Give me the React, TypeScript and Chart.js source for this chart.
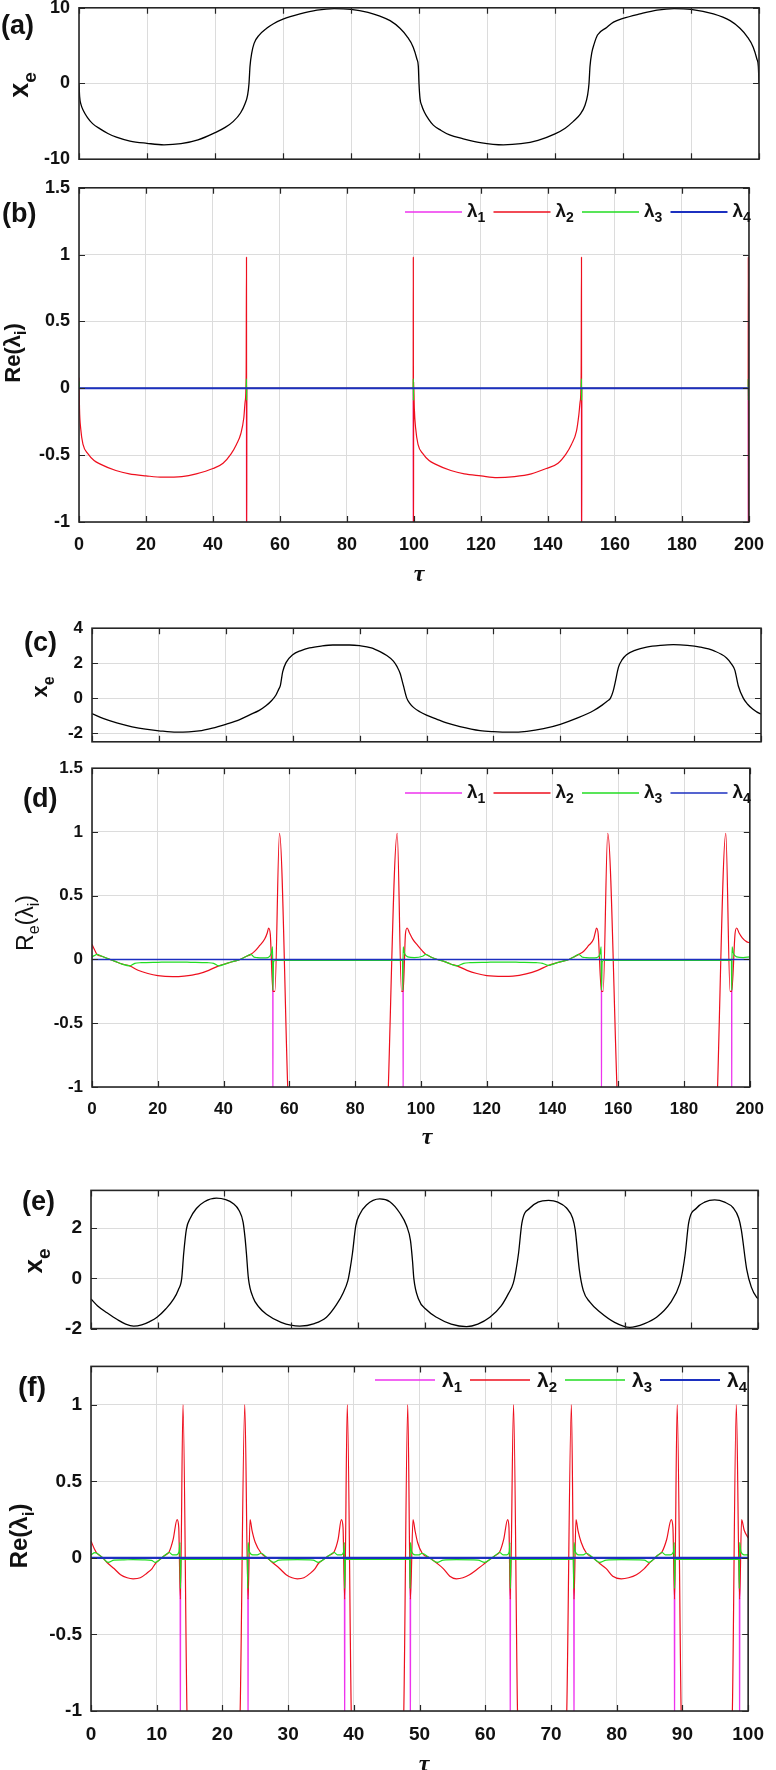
import React, { useEffect, useRef } from "react";
import { Chart, registerables } from "chart.js";

Chart.register(...registerables);

const FONT = "'Liberation Sans', Arial, Helvetica, sans-serif";
const SERIF = "'Liberation Serif', 'Times New Roman', serif";

// ---------------- tick labels ----------------
const tau200Ticks = [0, 20, 40, 60, 80, 100, 120, 140, 160, 180, 200];
const tau100Ticks = [0, 10, 20, 30, 40, 50, 60, 70, 80, 90, 100];
const xeATicks = [-10, 0, 10];
const lamTicks = [-1, -0.5, 0, 0.5, 1, 1.5];
const xeCTicks = [-2, 0, 2, 4];
const xeETicks = [-2, 0, 2];
const lamFTicks = [-1, -0.5, 0, 0.5, 1];

// ---------------- series names ----------------
const lambdaNames = ["λ1", "λ2", "λ3", "λ4"];

// ---------------- panel (a): x_e vs tau ----------------
const aXe: [number, number][] = [
  [0, 0], [0.2, -1.8], [0.6, -2.8], [1.3, -3.6], [2.5, -4.5], [4, -5.3], [6.2, -6.0], [8.5, -6.6],
  [11, -7.08], [15, -7.6], [20, -7.9], [25, -8.1], [30, -7.95], [35, -7.45], [40, -6.5], [43, -5.8],
  [45.4, -5.0], [47.5, -3.9], [48.8, -2.7], [49.6, -1.5], [50, 0], [50.3, 2.3], [50.8, 4.0], [51.5, 5.3],
  [53, 6.4], [55.2, 7.3], [57.2, 7.9], [60, 8.5], [65, 9.2], [70, 9.7], [75, 9.9], [80, 9.8], [85, 9.4],
  [88.5, 8.9], [91.5, 8.3], [94.4, 7.3], [96.5, 6.2], [98.3, 4.8], [99.4, 3.2], [99.8, 2.3], [100, 0],
  [100.3, -2.0], [100.8, -2.9], [101.6, -3.8], [102.8, -4.7], [104.2, -5.5], [106.5, -6.2], [109, -6.8],
  [113, -7.3], [118, -7.8], [124.8, -8.1], [130, -7.95], [135, -7.5], [140, -6.65], [143, -5.9],
  [145.4, -5.0], [147.5, -4.0], [148.8, -2.9], [149.6, -1.5], [150, 0], [150.3, 2.3], [150.8, 4.0],
  [151.5, 5.2], [152.5, 6.4], [155.2, 7.4], [157.2, 8.1], [160, 8.6], [165, 9.2], [170, 9.7], [175, 9.9],
  [180, 9.8], [186.6, 9.2], [191.5, 8.3], [194.4, 7.3], [196.5, 6.2], [198.3, 4.8], [199.4, 3.2],
  [199.8, 2.3], [200, 0],
];

// ---------------- panel (b): Re(lambda) ----------------
const bL1: [number, number][] = [
  [0, 0], [49.98, 0], [50, -1.3], [50.02, 0], [99.78, 0], [99.8, -1.3], [99.82, 0],
  [149.98, 0], [150, -1.3], [150.02, 0], [199.78, 0], [199.8, -1.3], [199.82, 0], [200, 0],
];
const bL2: [number, number][] = [
  [0, 0.08], [0.15, -0.15], [0.5, -0.3], [1.2, -0.42], [2.7, -0.49], [4.5, -0.54], [6.2, -0.565],
  [11, -0.615], [15, -0.64], [20, -0.655], [25, -0.665], [30.7, -0.66], [35, -0.64], [40, -0.6],
  [43, -0.56], [45.4, -0.49], [47, -0.42], [48.3, -0.34], [49.2, -0.22], [49.6, -0.1], [49.9, 0.1],
  [50, 0.98], [50.05, -1.3], [50.1, 0], [99.75, 0], [99.8, 0.98], [99.85, -1.3], [99.9, 0.05],
  [100.1, -0.15], [100.5, -0.3], [101.2, -0.42], [102.7, -0.49], [104.5, -0.54], [106.2, -0.565],
  [111, -0.615], [115, -0.64], [120, -0.655], [124.8, -0.668], [130, -0.66], [135, -0.64],
  [139.5, -0.6], [143, -0.56], [145.4, -0.49], [147, -0.42], [148.5, -0.32], [149.2, -0.2],
  [149.6, -0.1], [149.9, 0.1], [150, 0.98], [150.05, -1.3], [150.1, 0], [199.75, 0], [199.8, 0.98],
  [199.85, -1.3], [199.9, 0], [200, 0],
];
const bL3: [number, number][] = [
  [0, 0], [0.05, 0.05], [0.15, 0], [49.95, 0], [49.98, 0.07], [50.02, -0.09], [50.06, 0],
  [99.76, 0], [99.79, 0.07], [99.83, -0.09], [99.87, 0], [149.95, 0], [149.98, 0.07],
  [150.02, -0.09], [150.06, 0], [199.76, 0], [199.79, 0.07], [199.83, -0.09], [199.87, 0], [200, 0],
];
const bL4: [number, number][] = [[0, 0], [200, 0]];

// ---------------- panel (c): x_e vs tau ----------------
const cXe: [number, number][] = [
  [0, -0.89], [3.5, -1.18], [7.4, -1.42], [12, -1.64], [16, -1.78], [20, -1.87], [25.3, -1.95],
  [32, -1.88], [36, -1.72], [40, -1.5], [44, -1.25], [47, -0.97], [50, -0.7], [52, -0.44],
  [53.8, -0.12], [55, 0.18], [55.8, 0.5], [56.3, 0.71], [57, 1.5], [58, 2.03], [60, 2.48],
  [62.5, 2.72], [65, 2.87], [68.5, 2.98], [72, 3.04], [77, 3.04], [80, 3.0], [83.5, 2.88],
  [86.1, 2.66], [88, 2.45], [90.1, 2.12], [91.2, 1.8], [92.1, 1.42], [93.1, 0.71], [94.1, 0],
  [95, -0.3], [96.1, -0.53], [98, -0.78], [100, -0.97], [103, -1.2], [106, -1.42], [110, -1.63],
  [116, -1.86], [120, -1.92], [125, -1.95], [130, -1.9], [135, -1.75], [140, -1.5], [145, -1.15],
  [150, -0.71], [152.5, -0.4], [154, -0.18], [155, 0], [155.8, 0.4], [156.4, 0.89], [157.4, 1.77],
  [158.5, 2.2], [159.8, 2.48], [162.5, 2.75], [165.8, 2.92], [170, 3.02], [173.8, 3.06], [178, 3.02],
  [181.8, 2.92], [186, 2.7], [189.7, 2.3], [191.2, 1.95], [192.2, 1.59], [193.2, 0.71], [194.7, 0],
  [196, -0.35], [197.5, -0.62], [199.7, -0.89], [200, -0.9],
];

// ---------------- panel (d): Re(lambda) ----------------
const dL1: [number, number][] = [
  [0, 0], [54.95, 0], [55, -1.3], [55.05, 0], [94.55, 0], [94.6, -1.3], [94.65, 0],
  [154.85, 0], [154.9, -1.3], [154.95, 0], [194.45, 0], [194.5, -1.3], [194.55, 0], [200, 0],
];
const dL2: [number, number][] = [
  [0, 0.12], [0.7, 0.08], [1.5, 0.04], [3, 0.025], [5, 0.005], [7, -0.015], [9, -0.035], [11.5, -0.05],
  [14, -0.085], [17, -0.11], [20, -0.126], [24.5, -0.134], [28, -0.13], [32.3, -0.113], [35.5, -0.085],
  [38.5, -0.05], [41, -0.03], [43, -0.015], [45, 0], [47, 0.025], [48.3, 0.04], [49.5, 0.065],
  [51, 0.11], [52.5, 0.16], [53.3, 0.21], [53.7, 0.247], [54.2, 0.2], [55.0, -0.25], [55.6, -0.25],
  [57, 0.99], [59.5, -1.0], [59.9, -1.3], [89.8, -1.3], [90.1, -1.0], [92.8, 0.99], [94.1, -0.25],
  [94.6, -0.25], [95.3, 0.2], [95.8, 0.247], [96.5, 0.21], [97.5, 0.16], [99, 0.11], [100.5, 0.065],
  [101.5, 0.04], [103, 0.02], [105, 0], [107, -0.015], [109, -0.035], [111, -0.05], [114, -0.085],
  [117, -0.11], [120, -0.126], [125, -0.132], [128, -0.13], [132, -0.113], [135.5, -0.085],
  [138.7, -0.047], [141, -0.028], [143, -0.015], [145, 0], [146.5, 0.02], [148, 0.04], [149.5, 0.065],
  [151, 0.11], [152.5, 0.16], [153, 0.21], [153.4, 0.247], [153.9, 0.2], [154.9, -0.25], [155.4, -0.25],
  [156.8, 0.99], [159.6, -1.0], [160, -1.3], [189.9, -1.3], [190.2, -1.0], [192.7, 0.99], [194.0, -0.25],
  [194.5, -0.25], [195.5, 0.2], [196, 0.247], [196.7, 0.21], [197.7, 0.17], [199, 0.14], [200, 0.13],
];
const dL3: [number, number][] = [
  [0, 0.02], [0.7, 0.03], [1.5, 0.04], [3, 0.025], [5, 0.005], [7, -0.015], [9, -0.035], [11.5, -0.05],
  [13, -0.03], [15, -0.025], [20, -0.022], [25, -0.02], [30, -0.022], [35, -0.025], [37, -0.03],
  [38.5, -0.05], [41, -0.03], [43, -0.015], [45, 0], [47, 0.025], [48.3, 0.04], [49.2, 0.02],
  [50.2, 0.015], [52, 0.012], [53.5, 0.015], [54.5, 0.05], [54.9, 0.1], [55.0, -0.24], [55.2, -0.02],
  [55.6, -0.008], [94.4, -0.008], [94.5, -0.24], [94.6, 0.1], [95, 0.05], [96, 0.02], [98, 0.015],
  [100.5, 0.025], [101.5, 0.04], [103, 0.02], [105, 0], [107, -0.015], [109, -0.035], [111, -0.05],
  [113, -0.03], [115, -0.025], [120, -0.022], [125, -0.02], [130, -0.022], [135, -0.025], [137, -0.03],
  [138.7, -0.047], [141, -0.028], [143, -0.015], [145, 0], [146.5, 0.02], [148, 0.04], [149, 0.02],
  [150.2, 0.015], [152, 0.012], [153.5, 0.015], [154.5, 0.05], [154.8, 0.1], [154.9, -0.24],
  [155.1, -0.02], [155.5, -0.008], [194.4, -0.008], [194.5, -0.24], [194.6, 0.1], [195, 0.05],
  [196, 0.02], [198, 0.015], [200, 0.02],
];
const dL4: [number, number][] = [[0, 0], [200, 0]];

// ---------------- panel (e): x_e vs tau ----------------
const eXe: [number, number][] = [
  [0, -0.82], [1, -1.1], [2.4, -1.37], [4, -1.65], [5.2, -1.82], [6.4, -1.9], [7.6, -1.85], [8.8, -1.72],
  [9.9, -1.55], [11.2, -1.22], [12.4, -0.82], [13.1, -0.45], [13.6, 0], [13.9, 1.0], [14.3, 1.95],
  [14.9, 2.4], [15.8, 2.78], [17, 3.05], [18.8, 3.19], [20.2, 3.13], [21.3, 2.98], [22.2, 2.7],
  [22.8, 2.24], [23.1, 1.6], [23.3, 1.0], [23.6, 0], [24.3, -0.76], [25.2, -1.15], [26.3, -1.43],
  [28.5, -1.75], [31.3, -1.9], [33.5, -1.8], [35.3, -1.55], [36.8, -1.05], [37.8, -0.58], [38.5, -0.1],
  [38.8, 0.3], [39.2, 1.0], [39.7, 2.1], [40.3, 2.55], [41.3, 2.92], [43.3, 3.16], [44.8, 3.05],
  [46.3, 2.6], [47.3, 2.1], [47.9, 1.5], [48.2, 0.7], [48.4, 0], [49.1, -0.82], [50.3, -1.25],
  [51.8, -1.55], [54, -1.82], [56.3, -1.92], [58, -1.82], [59.8, -1.55], [61.5, -1.1], [62.6, -0.6],
  [63.3, -0.2], [63.7, 0.3], [64.1, 1.0], [64.6, 2.2], [65.8, 2.8], [67, 3.03], [68.6, 3.1], [70, 3.03],
  [71.3, 2.8], [72.2, 2.4], [72.6, 1.93], [73.2, 0.37], [73.8, -0.48], [74.8, -0.95], [76.3, -1.34],
  [78.5, -1.75], [80.8, -1.95], [83, -1.8], [84.8, -1.55], [86.8, -1.0], [88.3, -0.2], [88.7, 0.3],
  [89.1, 1.0], [89.6, 2.2], [90.8, 2.8], [92, 3.03], [93.5, 3.12], [95, 3.03], [96.3, 2.8],
  [97.1, 2.4], [97.5, 1.93], [98.3, 0.37], [99.0, -0.35], [99.8, -0.76], [100, -0.8],
];

// ---------------- panel (f): Re(lambda) ----------------
const fL1: [number, number][] = [
  [0, 0], [13.55, 0], [13.6, -1.3], [13.65, 0], [23.85, 0], [23.9, -1.3], [23.95, 0],
  [38.55, 0], [38.6, -1.3], [38.65, 0], [48.55, 0], [48.6, -1.3], [48.65, 0],
  [63.75, 0], [63.8, -1.3], [63.85, 0], [73.45, 0], [73.5, -1.3], [73.55, 0],
  [88.75, 0], [88.8, -1.3], [88.85, 0], [98.65, 0], [98.7, -1.3], [98.75, 0], [100, 0],
];
const fL2: [number, number][] = [
  [0, 0.11], [0.5, 0.06], [0.9, 0.03], [1.8, 0.0], [2.6, -0.037], [3.5, -0.07], [4.5, -0.11], [5.5, -0.13],
  [6.4, -0.137], [7.5, -0.13], [8.5, -0.1], [9.3, -0.07], [9.8, -0.037], [10.5, -0.01], [11.2, 0.015],
  [11.9, 0.04], [12.5, 0.12], [13.1, 0.25], [13.35, 0.2], [13.6, -0.27], [14.0, 1.0], [14.6, -1.0],
  [14.8, -1.3], [22.5, -1.3], [22.7, -1.0], [23.4, 1.0], [23.9, -0.27], [24.2, 0.25], [24.5, 0.18],
  [25.0, 0.1], [25.9, 0.03], [26.8, 0.0], [27.8, -0.037], [28.7, -0.07], [29.7, -0.11], [30.6, -0.13],
  [31.4, -0.137], [32.4, -0.13], [33.4, -0.1], [34.1, -0.07], [34.6, -0.037], [35.4, -0.01],
  [36.2, 0.015], [37.0, 0.04], [37.6, 0.12], [38.1, 0.25], [38.35, 0.2], [38.6, -0.27], [39.0, 1.0],
  [39.6, -1.0], [39.8, -1.3], [47.4, -1.3], [47.6, -1.0], [48.2, 1.0], [48.6, -0.27], [49.0, 0.25],
  [49.3, 0.18], [49.7, 0.1], [50.4, 0.03], [51.5, 0.0], [52.7, -0.037], [53.6, -0.07], [54.6, -0.12],
  [55.6, -0.137], [56.6, -0.13], [57.6, -0.11], [58.9, -0.07], [59.9, -0.037], [60.7, -0.01],
  [61.5, 0.015], [62.2, 0.04], [62.8, 0.12], [63.4, 0.25], [63.6, 0.2], [63.8, -0.27], [64.3, 1.0],
  [64.9, -1.0], [65.1, -1.3], [72.2, -1.3], [72.4, -1.0], [73.1, 1.0], [73.5, -0.27], [73.8, 0.25],
  [74.1, 0.18], [74.6, 0.1], [75.4, 0.03], [76.4, 0.0], [77.4, -0.037], [78.4, -0.07], [79.4, -0.12],
  [80.7, -0.137], [81.8, -0.13], [83, -0.11], [84.2, -0.07], [84.9, -0.037], [85.6, -0.01],
  [86.2, 0.015], [86.9, 0.04], [87.6, 0.12], [88.3, 0.25], [88.55, 0.2], [88.8, -0.27], [89.2, 1.0],
  [89.8, -1.0], [90.0, -1.3], [97.4, -1.3], [97.6, -1.0], [98.2, 1.0], [98.7, -0.27], [99.0, 0.25],
  [99.4, 0.18], [100, 0.13],
];
const fL3: [number, number][] = [
  [0, 0.02], [0.6, 0.034], [0.9, 0.03], [1.8, 0], [2.6, -0.03], [3.5, -0.015], [5, -0.013], [6.4, -0.012],
  [8, -0.013], [9.2, -0.016], [9.8, -0.03], [10.5, -0.01], [11.2, 0.015], [11.9, 0.035], [12.4, 0.02],
  [13.0, 0.02], [13.4, 0.04], [13.55, 0.1], [13.6, -0.2], [13.7, -0.01], [23.8, -0.01], [23.85, -0.2],
  [23.9, 0.1], [24.1, 0.04], [24.6, 0.02], [25.3, 0.02], [25.9, 0.03], [26.8, 0], [27.8, -0.03],
  [28.6, -0.015], [31.4, -0.012], [33.8, -0.015], [34.6, -0.03], [35.4, -0.01], [36.2, 0.015],
  [37.0, 0.035], [37.5, 0.02], [38.1, 0.02], [38.45, 0.04], [38.55, 0.1], [38.6, -0.2], [38.7, -0.01],
  [48.5, -0.01], [48.55, -0.2], [48.6, 0.1], [48.8, 0.04], [49.3, 0.02], [49.9, 0.02], [50.4, 0.03],
  [51.5, 0], [52.7, -0.03], [53.6, -0.015], [55.6, -0.012], [58.9, -0.015], [59.9, -0.03], [60.7, -0.01],
  [61.5, 0.015], [62.2, 0.035], [62.7, 0.02], [63.3, 0.02], [63.65, 0.04], [63.75, 0.1], [63.8, -0.2],
  [63.9, -0.01], [73.4, -0.01], [73.45, -0.2], [73.5, 0.1], [73.7, 0.04], [74.2, 0.02], [74.9, 0.02],
  [75.4, 0.03], [76.4, 0], [77.4, -0.03], [78.4, -0.015], [80.7, -0.012], [84.2, -0.015], [84.9, -0.03],
  [85.6, -0.01], [86.2, 0.015], [86.9, 0.035], [87.4, 0.02], [88.1, 0.02], [88.65, 0.04], [88.75, 0.1],
  [88.8, -0.2], [88.9, -0.01], [98.6, -0.01], [98.65, -0.2], [98.7, 0.1], [98.9, 0.04], [99.4, 0.02],
  [100, 0.02],
];
const fL4: [number, number][] = [[0, 0], [100, 0]];

// ---------------- styles ----------------
const C_MAG = "#ee33ee";
const C_RED = "#ee0f1e";
const C_GRN = "#22dd22";
const C_BLU = "#1c30c0";
const C_BLK = "#000000";

interface RichPart { t: string; sub?: boolean }
interface SeriesCfg { data: [number, number][]; color: string; width: number; order: number; label: string }
interface LegendCfg { y: number; startX: number; pitch: number; lineLen: number; gap1: number; size: number; subSize: number; baseOff: number; subOff: number }
interface PanelCfg {
  canvasTop: number; canvasBottom: number;
  area: { l: number; r: number; t: number; b: number };
  xMax: number; xTicks: number[]; showXLabels: boolean;
  yMin: number; yMax: number; yTicks: number[];
  tickSize: number;
  series: SeriesCfg[];
  label: { text: string; x: number; y: number; size: number };
  yTitle: { parts: RichPart[]; bx: number; cy: number; size: number; subSize: number; subShift: number; weight: string };
  xTitle?: { x: number; y: number; size: number };
  legend?: LegendCfg;
}

const lamSeries = (l1: [number, number][], l2: [number, number][], l3: [number, number][], l4: [number, number][], blueW: number): SeriesCfg[] => [
  { data: l1, color: C_MAG, width: 1.2, order: 4, label: lambdaNames[0] },
  { data: l2, color: C_RED, width: 1.2, order: 3, label: lambdaNames[1] },
  { data: l3, color: C_GRN, width: 1.2, order: 2, label: lambdaNames[2] },
  { data: l4, color: C_BLU, width: blueW, order: 1, label: lambdaNames[3] },
];

const reTitle: RichPart[] = [{ t: "Re(λ" }, { t: "i", sub: true }, { t: ")" }];
const reSubTitle: RichPart[] = [{ t: "R" }, { t: "e", sub: true }, { t: "(λ" }, { t: "i", sub: true }, { t: ")" }];
const xeTitle: RichPart[] = [{ t: "x" }, { t: "e", sub: true }];

const panels: PanelCfg[] = [
  {
    canvasTop: -12, canvasBottom: 179,
    area: { l: 79, r: 759, t: 5, b: 165 },
    xMax: 200, xTicks: tau200Ticks, showXLabels: false,
    yMin: -10, yMax: 10, yTicks: xeATicks, tickSize: 18,
    series: [{ data: aXe, color: C_BLK, width: 1.3, order: 1, label: "x_e" }],
    label: { text: "(a)", x: 1, y: 27, size: 27 },
    yTitle: { parts: xeTitle, bx: 28, cy: 85, size: 27, subSize: 19, subShift: 8, weight: "bold" },
  },
  {
    canvasTop: 168, canvasBottom: 600,
    area: { l: 79, r: 758, t: 184, b: 522 },
    xMax: 200, xTicks: tau200Ticks, showXLabels: true,
    yMin: -1, yMax: 1.5, yTicks: lamTicks, tickSize: 18,
    series: lamSeries(bL1, bL2, bL3, bL4, 2),
    label: { text: "(b)", x: 2, y: 215, size: 27 },
    yTitle: { parts: reTitle, bx: 20, cy: 353, size: 22, subSize: 16, subShift: 6, weight: "bold" },
    xTitle: { x: 419, y: 575, size: 24 },
    legend: { y: 212, startX: 405, pitch: 88.5, lineLen: 57, gap1: 5, size: 19, subSize: 14, baseOff: 5, subOff: 10 },
  },
  {
    canvasTop: 609, canvasBottom: 761,
    area: { l: 92, r: 761, t: 625, b: 747 },
    xMax: 200, xTicks: tau200Ticks, showXLabels: false,
    yMin: -2.5, yMax: 4, yTicks: xeCTicks, tickSize: 17,
    series: [{ data: cXe, color: C_BLK, width: 1.3, order: 1, label: "x_e" }],
    label: { text: "(c)", x: 24, y: 644, size: 27 },
    yTitle: { parts: xeTitle, bx: 47, cy: 687, size: 22, subSize: 16, subShift: 7, weight: "bold" },
  },
  {
    canvasTop: 749, canvasBottom: 1160,
    area: { l: 92, r: 761, t: 763, b: 1087 },
    xMax: 200, xTicks: tau200Ticks, showXLabels: true,
    yMin: -1, yMax: 1.5, yTicks: lamTicks, tickSize: 17,
    series: lamSeries(dL1, dL2, dL3, dL4, 1.3),
    label: { text: "(d)", x: 23, y: 800, size: 27 },
    yTitle: { parts: reSubTitle, bx: 33, cy: 923, size: 23, subSize: 16, subShift: 6, weight: "normal" },
    xTitle: { x: 427, y: 1138, size: 24 },
    legend: { y: 793, startX: 405, pitch: 88.5, lineLen: 57, gap1: 5, size: 19, subSize: 14, baseOff: 5, subOff: 10 },
  },
  {
    canvasTop: 1170, canvasBottom: 1349,
    area: { l: 91, r: 758, t: 1186, b: 1335 },
    xMax: 100, xTicks: tau100Ticks, showXLabels: false,
    yMin: -2, yMax: 3.5, yTicks: xeETicks, tickSize: 19,
    series: [{ data: eXe, color: C_BLK, width: 1.3, order: 1, label: "x_e" }],
    label: { text: "(e)", x: 22, y: 1203, size: 27 },
    yTitle: { parts: xeTitle, bx: 42, cy: 1261, size: 26, subSize: 19, subShift: 8, weight: "bold" },
  },
  {
    canvasTop: 1346, canvasBottom: 1770,
    area: { l: 91, r: 757, t: 1362, b: 1711 },
    xMax: 100, xTicks: tau100Ticks, showXLabels: true,
    yMin: -1, yMax: 1.25, yTicks: lamFTicks, tickSize: 19,
    series: lamSeries(fL1, fL2, fL3, fL4, 2.2),
    label: { text: "(f)", x: 18, y: 1388, size: 28 },
    yTitle: { parts: reTitle, bx: 27, cy: 1536, size: 24, subSize: 17, subShift: 7, weight: "bold" },
    xTitle: { x: 424, y: 1765, size: 24 },
    legend: { y: 1380, startX: 375, pitch: 95, lineLen: 60, gap1: 7, size: 21, subSize: 15, baseOff: 7, subOff: 12 },
  },
];

function richWidth(ctx: CanvasRenderingContext2D, parts: RichPart[], mainFont: string, subFont: string) {
  let w = 0;
  for (const p of parts) {
    ctx.font = p.sub ? subFont : mainFont;
    w += ctx.measureText(p.t).width;
  }
  return w;
}

function drawRich(ctx: CanvasRenderingContext2D, parts: RichPart[], x: number, baseY: number, mainFont: string, subFont: string, subShift: number) {
  let cx = x;
  for (const p of parts) {
    ctx.font = p.sub ? subFont : mainFont;
    ctx.fillText(p.t, cx, baseY + (p.sub ? subShift : 0));
    cx += ctx.measureText(p.t).width;
  }
}

function buildConfig(cfg: PanelCfg): any {
  const { area } = cfg;
  const top0 = cfg.canvasTop;
  const decor = {
    id: "decor",
    afterDraw(chart: any) {
      const ctx: CanvasRenderingContext2D = chart.ctx;
      const a = chart.chartArea;
      const xs = chart.scales.x;
      const ys = chart.scales.y;
      ctx.save();
      // inward tick marks
      ctx.strokeStyle = "#262626";
      ctx.lineWidth = 1.2;
      ctx.beginPath();
      for (const v of cfg.xTicks) {
        const px = Math.round(xs.getPixelForValue(v)) + 0.5;
        ctx.moveTo(px, a.bottom);
        ctx.lineTo(px, a.bottom - 6);
        ctx.moveTo(px, a.top);
        ctx.lineTo(px, a.top + 6);
      }
      for (const v of cfg.yTicks) {
        const py = Math.round(ys.getPixelForValue(v)) + 0.5;
        ctx.moveTo(a.left, py);
        ctx.lineTo(a.left + 6, py);
        ctx.moveTo(a.right, py);
        ctx.lineTo(a.right - 6, py);
      }
      ctx.stroke();
      // box
      ctx.lineWidth = 1.6;
      ctx.strokeRect(a.left, a.top, a.right - a.left, a.bottom - a.top);

      ctx.fillStyle = "#111";
      ctx.textAlign = "left";
      // panel label
      ctx.textBaseline = "middle";
      ctx.font = `bold ${cfg.label.size}px ${FONT}`;
      ctx.fillText(cfg.label.text, cfg.label.x, cfg.label.y - top0);

      // y title (rotated)
      ctx.textBaseline = "alphabetic";
      const yt = cfg.yTitle;
      const mf = `${yt.weight} ${yt.size}px ${FONT}`;
      const sf = `${yt.weight} ${yt.subSize}px ${FONT}`;
      ctx.save();
      ctx.translate(yt.bx, yt.cy - top0);
      ctx.rotate(-Math.PI / 2);
      const w = richWidth(ctx, yt.parts, mf, sf);
      drawRich(ctx, yt.parts, -w / 2, 0, mf, sf, yt.subShift);
      ctx.restore();

      // x title
      if (cfg.xTitle) {
        ctx.font = `italic bold ${cfg.xTitle.size}px ${SERIF}`;
        ctx.textAlign = "center";
        ctx.textBaseline = "alphabetic";
        ctx.fillText("τ", cfg.xTitle.x, cfg.xTitle.y - top0 + 6);
        ctx.textAlign = "left";
      }

      // legend
      if (cfg.legend) {
        const lg = cfg.legend;
        const bf = `bold ${lg.size}px ${FONT}`;
        const sbf = `bold ${lg.subSize}px ${FONT}`;
        const ly = lg.y - top0;
        cfg.series.forEach((s, i) => {
          const parts: RichPart[] = [{ t: s.label.slice(0, 1) }, { t: s.label.slice(1), sub: true }];
          const x0 = lg.startX + i * lg.pitch;
          ctx.strokeStyle = s.color;
          ctx.lineWidth = Math.max(1.3, s.width);
          ctx.beginPath();
          ctx.moveTo(x0, ly);
          ctx.lineTo(x0 + lg.lineLen, ly);
          ctx.stroke();
          ctx.fillStyle = "#111";
          drawRich(ctx, parts, x0 + lg.lineLen + lg.gap1, ly + lg.baseOff, bf, sbf, lg.subOff - lg.baseOff);
        });
      }
      ctx.restore();
    },
  };

  const tickFont = { family: FONT, size: cfg.tickSize, weight: "bold" as const };
  const gridCfg = { color: "#dcdcdc", lineWidth: 1, drawTicks: false };

  return {
    type: "line",
    data: {
      datasets: cfg.series.map((s) => ({
        label: s.label,
        data: s.data.map(([x, y]) => ({ x, y })),
        borderColor: s.color,
        backgroundColor: s.color,
        borderWidth: s.width,
        pointRadius: 0,
        fill: false,
        cubicInterpolationMode: "monotone",
        order: s.order,
      })),
    },
    options: {
      responsive: false,
      animation: false,
      events: [],
      layout: { padding: { top: area.t - top0, left: 0, right: 776 - area.r, bottom: 0 } },
      plugins: { legend: { display: false }, tooltip: { enabled: false }, title: { display: false } },
      scales: {
        x: {
          type: "linear",
          min: 0,
          max: cfg.xMax,
          afterBuildTicks: (s: any) => {
            s.ticks = cfg.xTicks.map((v) => ({ value: v }));
          },
          afterFit: (s: any) => {
            s.height = cfg.canvasBottom - area.b;
          },
          grid: gridCfg,
          border: { display: false },
          ticks: {
            display: cfg.showXLabels,
            font: tickFont,
            color: "#111",
            padding: 12,
            maxRotation: 0,
            autoSkip: false,
            callback: (v: any) => String(v),
          },
        },
        y: {
          type: "linear",
          min: cfg.yMin,
          max: cfg.yMax,
          afterBuildTicks: (s: any) => {
            s.ticks = cfg.yTicks.map((v) => ({ value: v }));
          },
          afterFit: (s: any) => {
            s.width = area.l;
          },
          grid: gridCfg,
          border: { display: false },
          ticks: {
            font: tickFont,
            color: "#111",
            padding: 9,
            autoSkip: false,
            callback: (v: any) => String(v),
          },
        },
      },
    },
    plugins: [decor],
  };
}

function Panel({ cfg }: { cfg: PanelCfg }) {
  const ref = useRef<HTMLCanvasElement>(null);
  useEffect(() => {
    const c = ref.current;
    if (!c) return;
    const chart = new Chart(c, buildConfig(cfg));
    return () => chart.destroy();
  }, [cfg]);
  const h = cfg.canvasBottom - cfg.canvasTop;
  return (
    <canvas
      ref={ref}
      width={776}
      height={h}
      style={{ position: "absolute", left: 0, top: cfg.canvasTop, width: 776, height: h, display: "block" }}
    />
  );
}

export default function App() {
  return (
    <div
      style={{
        position: "absolute",
        left: 0,
        top: 0,
        width: 776,
        height: 1770,
        overflow: "hidden",
        background: "#ffffff",
      }}
    >
      {panels.map((p, i) => (
        <Panel key={i} cfg={p} />
      ))}
    </div>
  );
}
